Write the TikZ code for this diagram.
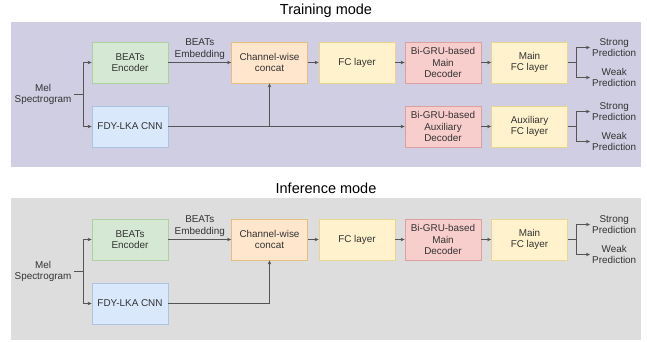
\documentclass[tikz,border=0pt]{standalone}
\usepackage{fontspec}
\setmainfont{Liberation Sans}
\usetikzlibrary{arrows.meta}

\definecolor{trainbg}{HTML}{D0CEE2}
\definecolor{inferbg}{HTML}{DDDDDD}
\definecolor{encfill}{HTML}{D5E8D4}
\definecolor{encline}{HTML}{AFCF9F}
\definecolor{cnnfill}{HTML}{DAE8FC}
\definecolor{cnnline}{HTML}{AEC3E2}
\definecolor{catfill}{HTML}{FFE6CC}
\definecolor{catline}{HTML}{E8BE80}
\definecolor{fcfill}{HTML}{FFF2CC}
\definecolor{fcline}{HTML}{E8D592}
\definecolor{decfill}{HTML}{F8CECC}
\definecolor{decline}{HTML}{DDA09E}
\definecolor{txt}{HTML}{333333}
\definecolor{wire}{HTML}{555555}

\begin{document}
\begin{tikzpicture}[x=1pt,y=-1pt,
	block/.style={rectangle, minimum width=76pt, minimum height=41pt, inner sep=1pt, line width=0.8pt, text=txt, align=center, font=\fontsize{9.9}{11.5}\selectfont},
	encoder/.style={block, fill=encfill, draw=encline},
	cnn/.style={block, fill=cnnfill, draw=cnnline},
	concat/.style={block, fill=catfill, draw=catline},
	fc/.style={block, fill=fcfill, draw=fcline},
	decoder/.style={block, fill=decfill, draw=decline},
	label/.style={inner sep=2pt, text=txt, align=center, font=\fontsize{9.9}{11.5}\selectfont},
	title/.style={inner sep=0pt, align=center, font=\fontsize{14.5}{17}\selectfont},
	wire/.style={draw=wire, line width=0.7pt},
	>={Stealth[length=4pt,width=3.5pt]}]
	
	\useasboundingbox (0,0) rectangle (647,341);
	
	%Panels
	\fill[trainbg] (11,22) rectangle (641,167);
	\fill[inferbg] (11,198) rectangle (641,340);
	\node[title]	(traintitle)	at (326,11)	{Training mode};
	\node[title]	(infertitle)	at (326,188)	{Inference mode};
	
	%Nodes (training)
	\node[label]	(tmel)	at (43,94.5)	{Mel\\Spectrogram};
	\coordinate	(tmelsplit)	at (83,94.5);
	\node[encoder]	(tbeats)	at (130,62.5)	{BEATs\\Encoder};
	\node[cnn]	(tfdy)	at (130,126.5)	{FDY-LKA CNN};
	\node[concat]	(tconcat)	at (269.5,62.5)	{Channel-wise\\concat};
	\node[fc]	(tfc)	at (357,62.5)	{FC layer};
	\node[decoder]	(tmaindec)	at (443,62.5)	{Bi-GRU-based\\Main\\Decoder};
	\node[fc]	(tmainfc)	at (529.5,62.5)	{Main\\FC layer};
	\node[decoder]	(tauxdec)	at (443,126.5)	{Bi-GRU-based\\Auxiliary\\Decoder};
	\node[fc]	(tauxfc)	at (529.5,126.5)	{Auxiliary\\FC layer};
	\coordinate	(tmainsplit)	at (576,62.5);
	\coordinate	(tauxsplit)	at (576,126.5);
	\node[label, anchor=west]	(tmainstrong)	at (590,47.5)	{Strong\\Prediction};
	\node[label, anchor=west]	(tmainweak)	at (590,77.5)	{Weak\\Prediction};
	\node[label, anchor=west]	(tauxstrong)	at (590,111.5)	{Strong\\Prediction};
	\node[label, anchor=west]	(tauxweak)	at (590,141.5)	{Weak\\Prediction};
	
	%Lines (training)
	\draw[wire] (tmel.east) -- (tmelsplit);
	\draw[wire, ->] (tmelsplit) |- (tbeats.west);
	\draw[wire, ->] (tmelsplit) |- (tfdy.west);
	\draw[wire, ->] (tbeats.east) -- node[label, above, yshift=1pt] (tembed) {BEATs\\Embedding} (tconcat.west);
	\draw[wire, ->] (tfdy.east) -- (tauxdec.west);
	\draw[wire, ->] (tfdy.east -| tconcat.south) -- (tconcat.south);
	\draw[wire, ->] (tconcat.east) -- (tfc.west);
	\draw[wire, ->] (tfc.east) -- (tmaindec.west);
	\draw[wire, ->] (tmaindec.east) -- (tmainfc.west);
	\draw[wire, ->] (tauxdec.east) -- (tauxfc.west);
	\draw[wire] (tmainfc.east) -- (tmainsplit);
	\draw[wire, ->] (tmainsplit) |- (tmainstrong.west);
	\draw[wire, ->] (tmainsplit) |- (tmainweak.west);
	\draw[wire] (tauxfc.east) -- (tauxsplit);
	\draw[wire, ->] (tauxsplit) |- (tauxstrong.west);
	\draw[wire, ->] (tauxsplit) |- (tauxweak.west);
	
	%Nodes (inference)
	\node[label]	(imel)	at (43,271.5)	{Mel\\Spectrogram};
	\coordinate	(imelsplit)	at (83,271.5);
	\node[encoder]	(ibeats)	at (130,239.5)	{BEATs\\Encoder};
	\node[cnn]	(ifdy)	at (130,303.5)	{FDY-LKA CNN};
	\node[concat]	(iconcat)	at (269.5,239.5)	{Channel-wise\\concat};
	\node[fc]	(ifc)	at (357,239.5)	{FC layer};
	\node[decoder]	(imaindec)	at (443,239.5)	{Bi-GRU-based\\Main\\Decoder};
	\node[fc]	(imainfc)	at (529.5,239.5)	{Main\\FC layer};
	\coordinate	(imainsplit)	at (576,239.5);
	\node[label, anchor=west]	(imainstrong)	at (590,224.5)	{Strong\\Prediction};
	\node[label, anchor=west]	(imainweak)	at (590,254.5)	{Weak\\Prediction};
	
	%Lines (inference)
	\draw[wire] (imel.east) -- (imelsplit);
	\draw[wire, ->] (imelsplit) |- (ibeats.west);
	\draw[wire, ->] (imelsplit) |- (ifdy.west);
	\draw[wire, ->] (ibeats.east) -- node[label, above, yshift=1pt] (iembed) {BEATs\\Embedding} (iconcat.west);
	\draw[wire, ->] (ifdy.east) -| (iconcat.south);
	\draw[wire, ->] (iconcat.east) -- (ifc.west);
	\draw[wire, ->] (ifc.east) -- (imaindec.west);
	\draw[wire, ->] (imaindec.east) -- (imainfc.west);
	\draw[wire] (imainfc.east) -- (imainsplit);
	\draw[wire, ->] (imainsplit) |- (imainstrong.west);
	\draw[wire, ->] (imainsplit) |- (imainweak.west);
\end{tikzpicture}
\end{document}
